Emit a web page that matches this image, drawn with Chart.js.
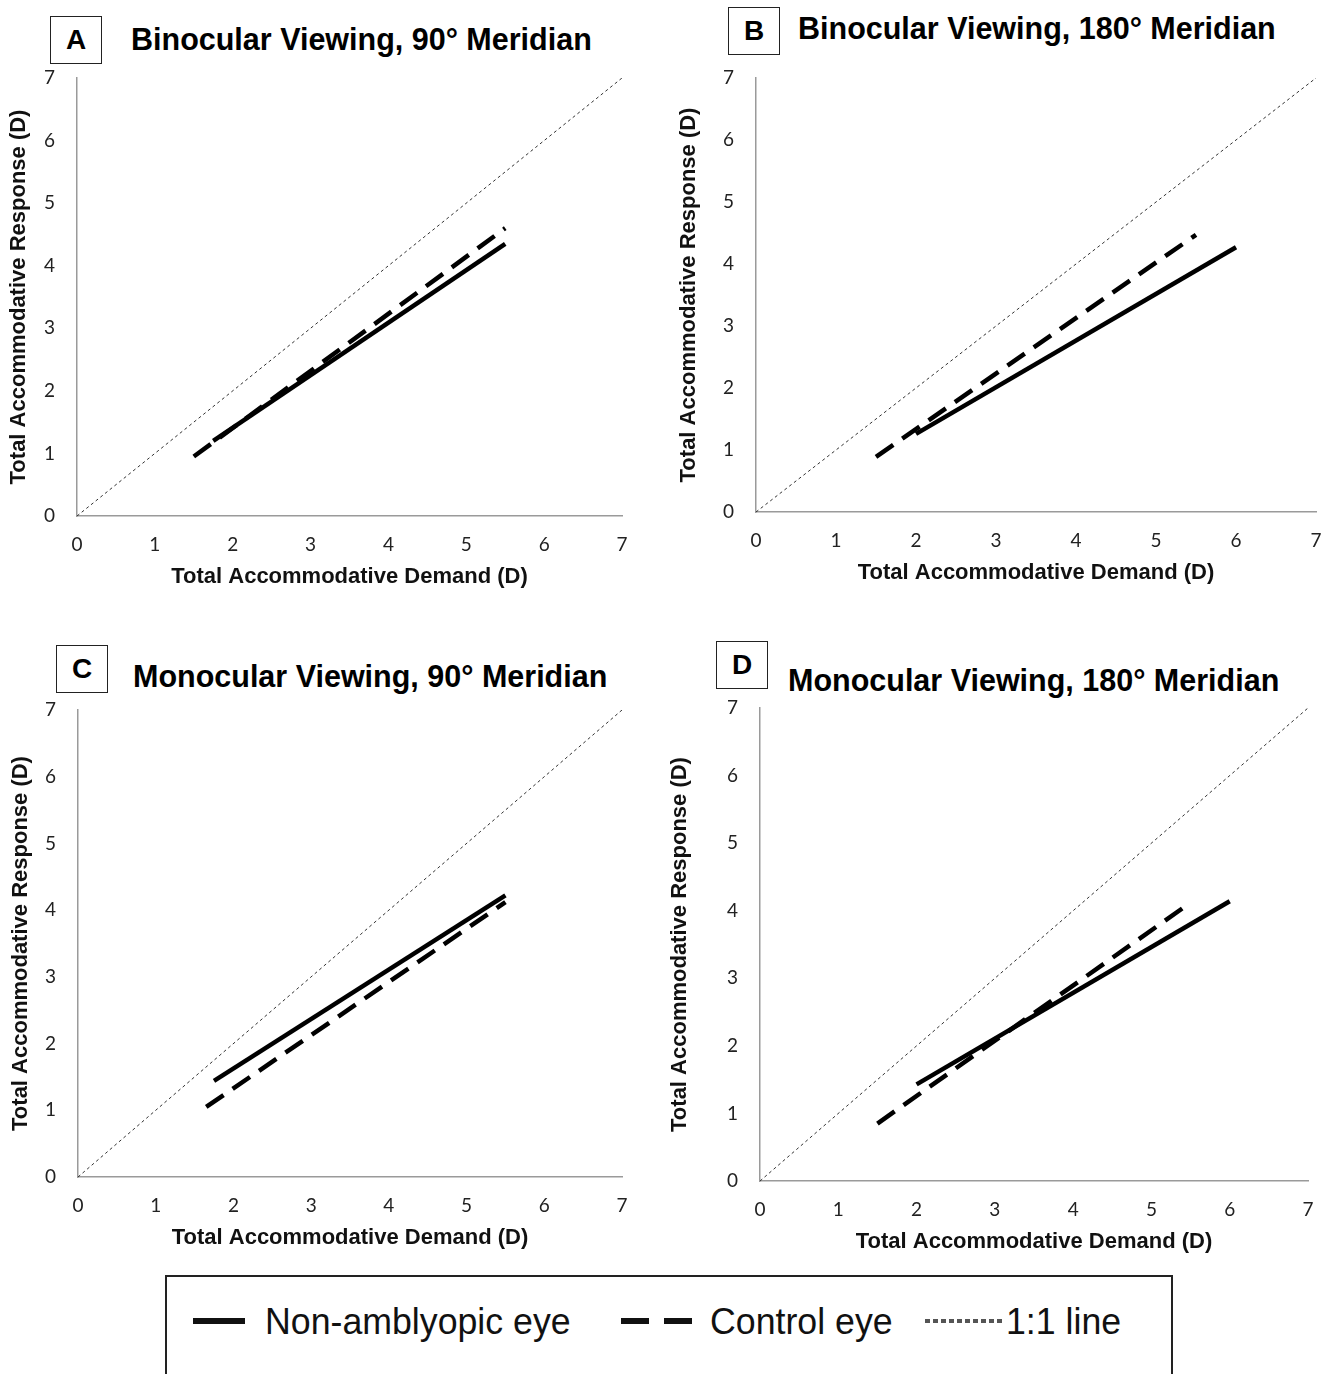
<!DOCTYPE html>
<html>
<head>
<meta charset="utf-8">
<script src="https://cdn.jsdelivr.net/npm/chart.js@4.4.1/dist/chart.umd.min.js"></script>
<style>
  body{margin:0;background:#fff;}
  #page{position:relative;width:1329px;height:1374px;overflow:hidden;background:#fff;}
  .tag{position:absolute;width:50px;height:46px;border:1.5px solid #222;font:bold 28px "Liberation Sans",Arial,sans-serif;
       display:flex;align-items:center;justify-content:center;color:#000;box-sizing:content-box;}
  .ttl{position:absolute;font:bold 30.5px "Liberation Sans",Arial,sans-serif;color:#000;white-space:nowrap;transform:translateY(-50%);}
  canvas{position:absolute;}
  #legend{position:absolute;left:165px;top:1275px;width:1004px;height:120px;border:2px solid #222;}
  .lg{position:absolute;top:24px;font:37px "Liberation Sans",Arial,sans-serif;color:#111;white-space:nowrap;transform:scaleX(0.965);transform-origin:0 50%;}
</style>
</head>
<body>
<div id="page"></div>
<script>
const panelLetters = ["A", "B", "C", "D"];
const panelTitles = [
  "Binocular Viewing, 90° Meridian",
  "Binocular Viewing, 180° Meridian",
  "Monocular Viewing, 90° Meridian",
  "Monocular Viewing, 180° Meridian"
];
const xTitle = "Total Accommodative Demand (D)";
const yTitle = "Total Accommodative Response (D)";
const axisTicks = [0, 1, 2, 3, 4, 5, 6, 7];
const seriesNames = ["Non-amblyopic eye", "Control eye", "1:1 line"];

// regression lines, start and end point per panel
const nonAmbDemand   = [[1.75, 5.5], [2.0, 6.0], [1.75, 5.5], [2.0, 6.0]];
const nonAmbResponse = [[1.2, 4.35], [1.26, 4.27], [1.44, 4.22], [1.43, 4.14]];
const controlDemand   = [[1.5, 5.5], [1.5, 5.5], [1.65, 5.5], [1.5, 5.5]];
const controlResponse = [[0.95, 4.6], [0.89, 4.47], [1.05, 4.12], [0.85, 4.12]];
const unityDemand   = [0, 7];
const unityResponse = [0, 7];

// where each plot sits on the page: chart area [left, top, right, bottom]
const layout = [
  {area: [77, 78, 622, 516],    yTitleX: 19,  xTitleY: 577,  tag: [50, 16],  titleX: 131, titleY: 39},
  {area: [756, 78, 1316, 512],  yTitleX: 689, xTitleY: 573,  tag: [728, 7],  titleX: 798, titleY: 28},
  {area: [78, 710, 622, 1177],  yTitleX: 21,  xTitleY: 1238, tag: [56, 645], titleX: 133, titleY: 676},
  {area: [760, 708, 1308, 1181],yTitleX: 680, xTitleY: 1242, tag: [716, 641],titleX: 788, titleY: 680}
];

const page = document.getElementById("page");
const pts = (xs, ys) => xs.map((x, i) => ({x: x, y: ys[i]}));

const tickFont = {family: "Lato, 'Open Sans', sans-serif", size: 19};
const titleFont = {family: "'Liberation Sans', Arial, sans-serif", size: 22, weight: "bold"};
const LH = 22 * 1.2;
const TP = 4;
const TOP_PAD = 40;
const RIGHT_PAD = 30;

panelLetters.forEach((letter, i) => {
  const g = layout[i];
  const tag = document.createElement("div");
  tag.className = "tag";
  tag.style.left = g.tag[0] + "px";
  tag.style.top = g.tag[1] + "px";
  tag.textContent = letter;
  page.appendChild(tag);

  const ttl = document.createElement("div");
  ttl.className = "ttl";
  ttl.style.left = g.titleX + "px";
  ttl.style.top = g.titleY + "px";
  ttl.textContent = panelTitles[i];
  page.appendChild(ttl);

  const [aL, aT, aR, aB] = g.area;
  const cL = Math.round(g.yTitleX - LH / 2 - TP);
  const cT = aT - TOP_PAD;
  const cR = aR + RIGHT_PAD;
  const cB = Math.round(g.xTitleY + LH / 2 + TP);
  const yW = aL - cL;
  const xH = cB - aB;

  const cv = document.createElement("canvas");
  cv.width = cR - cL;
  cv.height = cB - cT;
  cv.style.left = cL + "px";
  cv.style.top = cT + "px";
  cv.style.width = (cR - cL) + "px";
  cv.style.height = (cB - cT) + "px";
  page.appendChild(cv);

  new Chart(cv, {
    type: "scatter",
    data: {
      datasets: [
        {
          label: seriesNames[2],
          data: pts(unityDemand, unityResponse),
          showLine: true,
          borderColor: "#333",
          borderWidth: 1,
          borderDash: [3, 3],
          pointRadius: 0
        },
        {
          label: seriesNames[1],
          data: pts(controlDemand[i], controlResponse[i]),
          showLine: true,
          borderColor: "#000",
          borderWidth: 4.5,
          borderDash: [21, 11],
          pointRadius: 0
        },
        {
          label: seriesNames[0],
          data: pts(nonAmbDemand[i], nonAmbResponse[i]),
          showLine: true,
          borderColor: "#000",
          borderWidth: 4.5,
          pointRadius: 0
        }
      ]
    },
    options: {
      responsive: false,
      animation: false,
      layout: {padding: {top: TOP_PAD, right: RIGHT_PAD, bottom: 0, left: 0}},
      plugins: {legend: {display: false}, tooltip: {enabled: false}},
      scales: {
        x: {
          type: "linear",
          min: axisTicks[0],
          max: axisTicks[axisTicks.length - 1],
          afterBuildTicks: s => { s.ticks = axisTicks.map(v => ({value: v})); },
          afterFit: s => { s.height = xH; },
          grid: {display: false, drawTicks: false},
          border: {display: true, color: "#9a9a9a", width: 1.5},
          ticks: {font: tickFont, color: "#222", padding: 17, maxRotation: 0},
          title: {display: true, text: xTitle, font: titleFont, color: "#111", padding: {top: TP, bottom: TP}}
        },
        y: {
          type: "linear",
          min: axisTicks[0],
          max: axisTicks[axisTicks.length - 1],
          afterBuildTicks: s => { s.ticks = axisTicks.map(v => ({value: v})); },
          afterFit: s => { s.width = yW; },
          grid: {display: false, drawTicks: false},
          border: {display: true, color: "#9a9a9a", width: 1.5},
          ticks: {font: tickFont, color: "#222", padding: 22},
          title: {display: true, text: yTitle, font: titleFont, color: "#111", padding: {top: TP, bottom: TP}}
        }
      }
    }
  });
});

// shared legend box at the bottom
const legend = document.createElement("div");
legend.id = "legend";
legend.innerHTML =
  '<div style="position:absolute;left:26px;top:41px;width:52px;height:6px;background:#111"></div>' +
  '<div class="lg" style="left:98px">' + seriesNames[0] + '</div>' +
  '<div style="position:absolute;left:454px;top:41px;width:28px;height:6px;background:#111"></div>' +
  '<div style="position:absolute;left:497px;top:41px;width:28px;height:6px;background:#111"></div>' +
  '<div class="lg" style="left:543px">' + seriesNames[1] + '</div>' +
  '<div style="position:absolute;left:758px;top:42px;width:78px;height:4px;background:repeating-linear-gradient(90deg,#555 0 5px,transparent 5px 8px)"></div>' +
  '<div class="lg" style="left:839px">' + seriesNames[2] + '</div>';
page.appendChild(legend);
</script>
</body>
</html>
